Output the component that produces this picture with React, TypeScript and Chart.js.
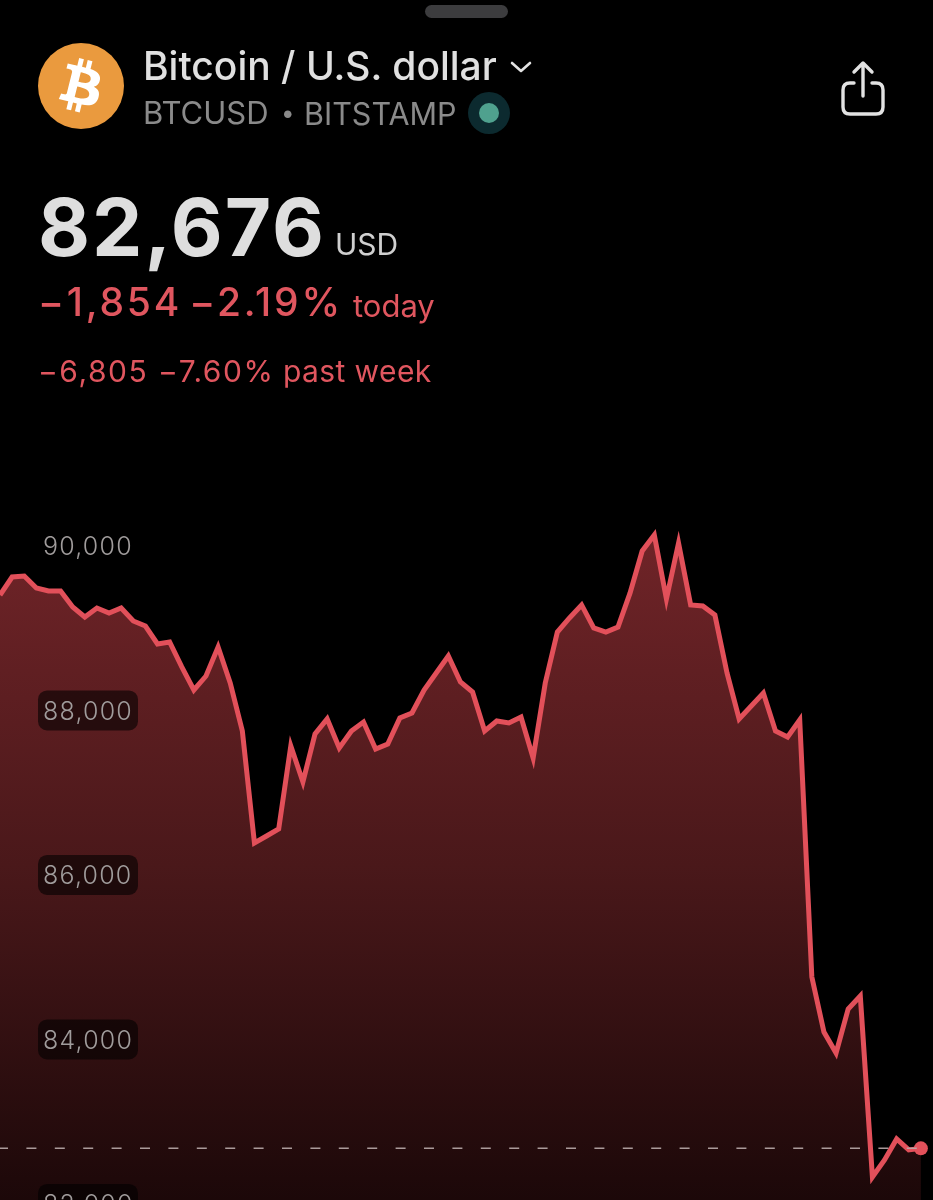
import React, { useEffect, useRef } from "react";
import { Chart, registerables } from "chart.js";

Chart.register(...registerables);

const prices = [
  89404, 89623, 89635, 89489, 89453, 89453, 89258, 89137, 89246, 89185, 89246,
  89088, 89027, 88809, 88833, 88529, 88249, 88419, 88772, 88334, 87751, 86389,
  86474, 86559, 87568, 87131, 87714, 87897, 87544, 87751, 87860, 87532, 87593,
  87909, 87970, 88249, 88456, 88663, 88347, 88225, 87751, 87872, 87848, 87921,
  87423, 88334, 88954, 89125, 89283, 89003, 88954, 89015, 89429, 89939, 90134,
  89356, 90036, 89283, 89271, 89161, 88456, 87897, 88055, 88213, 87751, 87678,
  87885, 84760, 84091, 83836, 84371, 84529, 82328, 82535, 82790, 82657, 82676,
];
const lastPrice = 82676;
const tickValues = [90000, 88000, 86000, 84000, 82000];
const labels = [...prices.map((_, i) => String(i)), ""];

const RED = "#e2505a";

const tickPill = {
  id: "tickPill",
  beforeDraw(chart: any) {
    chart.ctx.letterSpacing = "1.2px";
  },
  afterDatasetsDraw(chart: any) {
    const { ctx, scales } = chart;
    ctx.save();
    ctx.fillStyle = "rgba(0,0,0,0.58)";
    for (const t of scales.y.ticks) {
      const y = scales.y.getPixelForValue(t.value);
      ctx.beginPath();
      ctx.roundRect(38, y - 20, 100, 40, 9);
      ctx.fill();
    }
    ctx.restore();
  },
};

function T(props: { x: number; y: number; s: number; w?: number; c: string; ls?: number; ws?: number; children: any }) {
  const { x, y, s, w = 400, c, ls = 0, ws = 0, children } = props;
  return (
    <div
      style={{
        position: "absolute",
        left: x,
        top: y - s,
        height: s * 2,
        lineHeight: `${s * 2}px`,
        fontSize: s,
        fontWeight: w,
        color: c,
        letterSpacing: ls,
        wordSpacing: ws,
        whiteSpace: "nowrap",
        fontFamily: "Inter, sans-serif",
      }}
    >
      {children}
    </div>
  );
}

export default function App() {
  const ref = useRef<HTMLCanvasElement>(null);
  useEffect(() => {
    document.body.style.margin = "0";
    document.body.style.background = "#000";
    const chart = new Chart(ref.current!, {
      type: "line",
      data: {
        labels,
        datasets: [
          {
            label: "Last price",
            data: prices.map(() => lastPrice),
            borderColor: "rgba(185,170,170,0.9)",
            borderWidth: 1.5,
            borderDash: [10, 18.4],
            borderDashOffset: 2,
            pointRadius: 0,
            fill: false,
            order: 0,
          },
          {
            label: "BTCUSD",
            data: prices,
            borderColor: RED,
            borderWidth: 5,
            borderJoinStyle: "miter",
            tension: 0,
            fill: "start",
            backgroundColor: (c: any) => {
              const g = c.chart.ctx.createLinearGradient(0, 530, 0, 1200);
              g.addColorStop(0, "rgb(112,36,40)");
              g.addColorStop(0.5, "rgb(74,24,26)");
              g.addColorStop(1, "rgb(28,8,9)");
              return g;
            },
            pointRadius: (c: any) => (c.dataIndex === prices.length - 1 ? 7 : 0),
            pointBackgroundColor: RED,
            pointBorderWidth: 0,
            order: 1,
          },
        ],
      },
      options: {
        animation: false,
        responsive: false,
        locale: "en-US",
        events: [],
        layout: { padding: 0, autoPadding: false },
        plugins: { legend: { display: false }, tooltip: { enabled: false } },
        scales: {
          x: { display: false, offset: false },
          y: {
            min: 81562,
            max: 96638,
            afterBuildTicks: (s: any) => {
              s.ticks = tickValues.map((value) => ({ value }));
            },
            afterFit: (s: any) => {
              s.width = 0;
              s.paddingTop = 0;
              s.paddingBottom = 0;
            },
            grid: { display: false, drawTicks: false },
            border: { display: false },
            ticks: {
              z: 1,
              mirror: true,
              padding: 43,
              labelOffset: 2,
              autoSkip: false,
              color: "#a09c9c",
              font: { family: "Inter", size: 25, weight: 300 },
            },
          },
        },
      },
      plugins: [tickPill],
    } as any);
    return () => chart.destroy();
  }, []);

  return (
    <div style={{ position: "relative", width: 933, height: 1200, overflow: "hidden", background: "#000" }}>
      <canvas ref={ref} width={933} height={1240} style={{ position: "absolute", left: 0, top: 0, width: 933, height: 1240 }} />
      <div style={{ position: "absolute", left: 425, top: 5, width: 83, height: 13, borderRadius: 7, background: "#3c3c3e" }} />
      <svg style={{ position: "absolute", left: 38, top: 43 }} width={86} height={86} viewBox="0 0 24 24">
        <circle cx="12" cy="12" r="12" fill="#ea9a3e" />
        <path
          fill="#fff"
          d="M17.294 10.29c.24-1.59-.974-2.45-2.64-3.03l.54-2.153-1.315-.33-.525 2.107c-.345-.087-.705-.167-1.064-.25l.526-2.127-1.32-.33-.54 2.165c-.285-.067-.565-.132-.84-.2l-1.815-.45-.35 1.407s.975.225.955.236c.535.136.63.486.615.766l-1.477 5.92c-.075.166-.24.406-.614.314.015.02-.96-.24-.96-.24l-.66 1.51 1.71.426.93.242-.54 2.19 1.32.327.54-2.17c.36.1.705.19 1.05.273l-.51 2.154 1.32.33.545-2.19c2.24.427 3.93.257 4.64-1.774.57-1.637-.03-2.58-1.217-3.196.854-.193 1.5-.76 1.68-1.93h.01zm-3.01 4.22c-.404 1.64-3.157.75-4.05.53l.72-2.9c.896.23 3.757.67 3.33 2.37zm.41-4.24c-.37 1.49-2.662.735-3.405.55l.654-2.64c.744.18 3.137.524 2.75 2.084z"
        />
      </svg>
      <T x={143} y={66} s={39} w={500} c="#e0e0e0">Bitcoin / U.S. dollar</T>
      <svg style={{ position: "absolute", left: 509, top: 59 }} width={24} height={16} viewBox="0 0 24 16">
        <path d="M3 4 L12 12 L21 4" fill="none" stroke="#e2e2e2" strokeWidth={2.6} strokeLinecap="round" strokeLinejoin="round" />
      </svg>
      <T x={143} y={113} s={31} c="#8a8a8a">BTCUSD</T>
      <T x={281} y={113} s={24} c="#8a8a8a">•</T>
      <T x={304} y={113} s={30.5} c="#8a8a8a">BITSTAMP</T>
      <svg style={{ position: "absolute", left: 467, top: 92 }} width={44} height={42} viewBox="0 0 44 42">
        <circle cx="22" cy="21" r="21" fill="#0c2a2f" />
        <circle cx="22" cy="21" r="10" fill="#4fa18e" />
      </svg>
      <svg style={{ position: "absolute", left: 836, top: 58 }} width={54} height={62} viewBox="0 0 54 62">
        <path d="M18 25 H14 Q7 25 7 32 V49 Q7 56 14 56 H40 Q47 56 47 49 V32 Q47 25 40 25 H36" fill="none" stroke="#e2e2e2" strokeWidth={3.4} strokeLinecap="round" />
        <path d="M27 38 V6 M18 14 L27 5 L36 14" fill="none" stroke="#e2e2e2" strokeWidth={3.4} strokeLinecap="round" strokeLinejoin="round" />
      </svg>
      <T x={38} y={227} s={80} w={700} c="#dedede" ls={2}>82,676</T>
      <T x={335} y={244} s={30} c="#cfcfcf">USD</T>
      <T x={38} y={302} s={39} w={500} c="#e0565f" ls={2.8} ws={-6}>−1,854 −2.19%</T>
      <T x={353} y={306} s={31} c="#e0565f">today</T>
      <T x={38} y={371} s={30} c="#e0565f" ls={1.5}>−6,805 −7.60%</T>
      <T x={283} y={371} s={30} c="#e0565f" ls={0.4}>past week</T>
    </div>
  );
}
